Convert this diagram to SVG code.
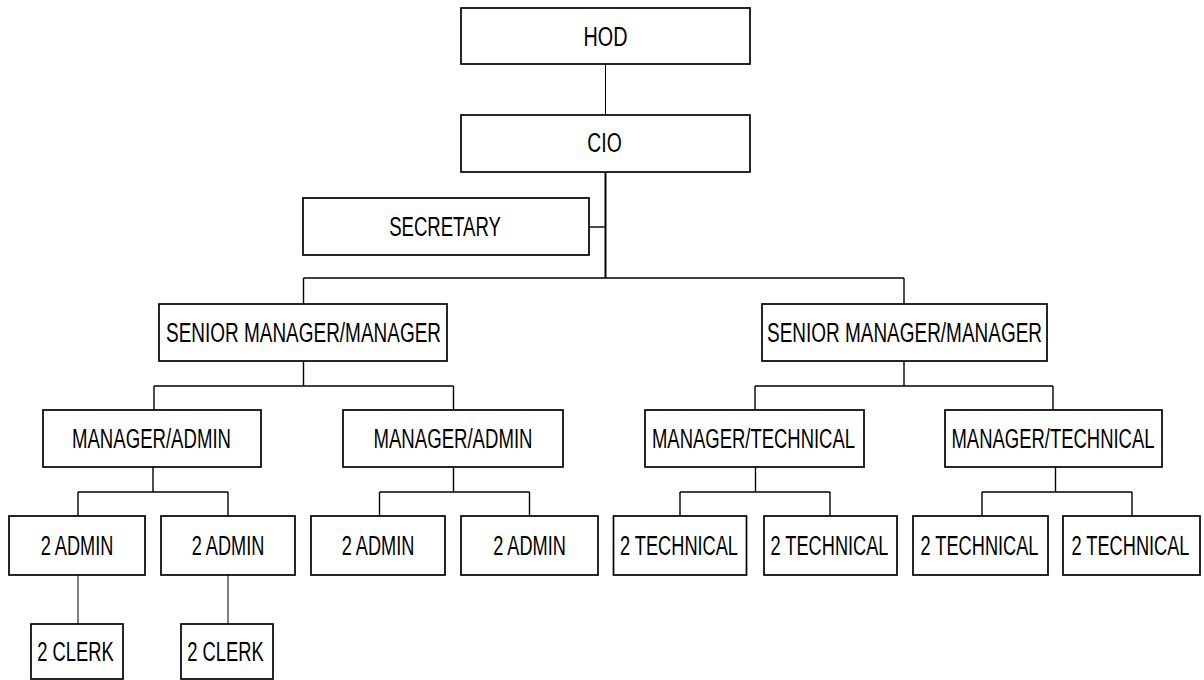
<svg xmlns="http://www.w3.org/2000/svg" width="1204" height="680" viewBox="0 0 1204 680">
<style>
rect{fill:#fff;stroke:#000;stroke-width:1.7}
text{font-family:"Liberation Sans",Arial,sans-serif;font-size:27px;text-anchor:middle;fill:#000}
.c line{stroke:#000;stroke-width:1.4;fill:none}
</style>
<rect x="0" y="0" width="1204" height="680" style="stroke:none"/>
<g class="c" id="connectors">
<line x1="605.5" y1="64" x2="605.5" y2="115" style="stroke-width:1"/>
<line x1="605.5" y1="172" x2="605.5" y2="278" style="stroke-width:2"/>
<line x1="589" y1="227" x2="605.5" y2="227"/>
<line x1="303.5" y1="278" x2="904" y2="278"/>
<line x1="303.5" y1="278" x2="303.5" y2="304"/>
<line x1="904" y1="278" x2="904" y2="304"/>
<line x1="303.5" y1="361" x2="303.5" y2="386"/>
<line x1="154" y1="386" x2="453.5" y2="386"/>
<line x1="154" y1="386" x2="154" y2="410"/>
<line x1="453.5" y1="386" x2="453.5" y2="410"/>
<line x1="904" y1="361" x2="904" y2="386"/>
<line x1="755" y1="386" x2="1053" y2="386"/>
<line x1="755" y1="386" x2="755" y2="410"/>
<line x1="1053" y1="386" x2="1053" y2="410"/>
<line x1="153" y1="467" x2="153" y2="492"/>
<line x1="78" y1="492" x2="228" y2="492"/>
<line x1="78" y1="492" x2="78" y2="516"/>
<line x1="228" y1="492" x2="228" y2="516"/>
<line x1="453.5" y1="467" x2="453.5" y2="492"/>
<line x1="379.5" y1="492" x2="529.5" y2="492"/>
<line x1="379.5" y1="492" x2="379.5" y2="516"/>
<line x1="529.5" y1="492" x2="529.5" y2="516"/>
<line x1="755.5" y1="467" x2="755.5" y2="492"/>
<line x1="680" y1="492" x2="830" y2="492"/>
<line x1="680" y1="492" x2="680" y2="516"/>
<line x1="830" y1="492" x2="830" y2="516"/>
<line x1="1055.5" y1="467" x2="1055.5" y2="492"/>
<line x1="982" y1="492" x2="1132" y2="492"/>
<line x1="982" y1="492" x2="982" y2="516"/>
<line x1="1132" y1="492" x2="1132" y2="516"/>
<line x1="78" y1="575" x2="78" y2="624" style="stroke-width:1"/>
<line x1="228" y1="575" x2="228" y2="624" style="stroke-width:1"/>
</g>
<g id="hod"><rect x="461" y="8" width="289" height="56"/><text x="605.5" y="45.5" textLength="44" lengthAdjust="spacingAndGlyphs">HOD</text></g>
<g id="cio"><rect x="461" y="115" width="289" height="57"/><text x="604.5" y="152" textLength="34.4" lengthAdjust="spacingAndGlyphs">CIO</text></g>
<g id="secretary"><rect x="303" y="198" width="286" height="57"/><text x="445" y="236" textLength="111.7" lengthAdjust="spacingAndGlyphs">SECRETARY</text></g>
<g id="sm1"><rect x="159" y="304" width="288" height="57"/><text x="303.5" y="341.5" textLength="275" lengthAdjust="spacingAndGlyphs">SENIOR MANAGER/MANAGER</text></g>
<g id="sm2"><rect x="762" y="304" width="285" height="57"/><text x="904.5" y="341.5" textLength="275" lengthAdjust="spacingAndGlyphs">SENIOR MANAGER/MANAGER</text></g>
<g id="ma1"><rect x="43" y="410" width="218" height="57"/><text x="151.5" y="448" textLength="159" lengthAdjust="spacingAndGlyphs">MANAGER/ADMIN</text></g>
<g id="ma2"><rect x="343" y="410" width="220" height="57"/><text x="453" y="448" textLength="159" lengthAdjust="spacingAndGlyphs">MANAGER/ADMIN</text></g>
<g id="mt1"><rect x="645" y="410" width="219" height="57"/><text x="753.5" y="448" textLength="203" lengthAdjust="spacingAndGlyphs">MANAGER/TECHNICAL</text></g>
<g id="mt2"><rect x="945" y="410" width="217" height="57"/><text x="1053" y="448" textLength="203" lengthAdjust="spacingAndGlyphs">MANAGER/TECHNICAL</text></g>
<g id="a1"><rect x="9" y="516" width="136" height="59"/><text x="77" y="555" textLength="72.7" lengthAdjust="spacingAndGlyphs">2 ADMIN</text></g>
<g id="a2"><rect x="161" y="516" width="134" height="59"/><text x="228" y="555" textLength="72.7" lengthAdjust="spacingAndGlyphs">2 ADMIN</text></g>
<g id="a3"><rect x="311" y="516" width="134" height="59"/><text x="378" y="555" textLength="72.7" lengthAdjust="spacingAndGlyphs">2 ADMIN</text></g>
<g id="a4"><rect x="461" y="516" width="137" height="59"/><text x="529.5" y="555" textLength="72.7" lengthAdjust="spacingAndGlyphs">2 ADMIN</text></g>
<g id="t1"><rect x="613.5" y="516" width="133" height="59"/><text x="679" y="555" textLength="118" lengthAdjust="spacingAndGlyphs">2 TECHNICAL</text></g>
<g id="t2"><rect x="764" y="516" width="133" height="59"/><text x="829.5" y="555" textLength="118" lengthAdjust="spacingAndGlyphs">2 TECHNICAL</text></g>
<g id="t3"><rect x="913" y="516" width="135" height="59"/><text x="979.5" y="555" textLength="118" lengthAdjust="spacingAndGlyphs">2 TECHNICAL</text></g>
<g id="t4"><rect x="1063" y="516" width="137" height="59"/><text x="1130.5" y="555" textLength="118" lengthAdjust="spacingAndGlyphs">2 TECHNICAL</text></g>
<g id="c1"><rect x="31" y="624" width="92" height="55"/><text x="75.5" y="661" textLength="76.6" lengthAdjust="spacingAndGlyphs">2 CLERK</text></g>
<g id="c2"><rect x="181" y="624" width="92" height="55"/><text x="225.5" y="661" textLength="76.6" lengthAdjust="spacingAndGlyphs">2 CLERK</text></g>
</svg>
